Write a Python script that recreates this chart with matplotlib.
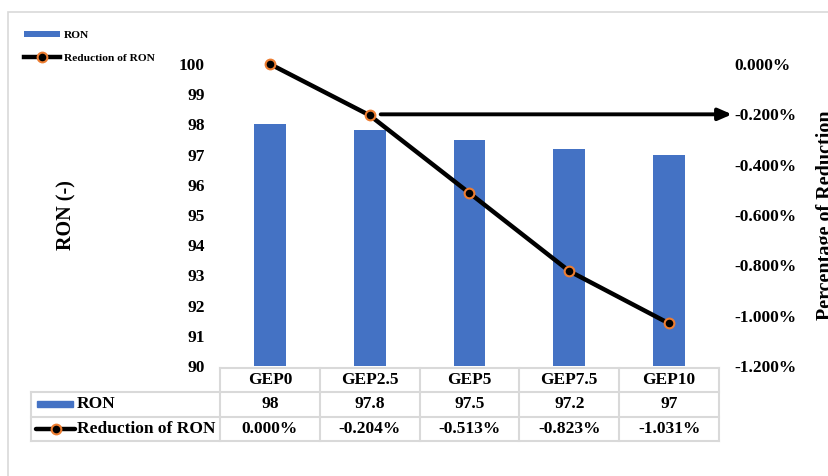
import matplotlib.pyplot as plt
import matplotlib.patches as mpatches
import numpy as np

plt.rcParams['font.family'] = ['Liberation Serif', 'DejaVu Serif']
plt.rcParams['font.weight'] = 'bold'

# Data
categories = ['GEP0', 'GEP2.5', 'GEP5', 'GEP7.5', 'GEP10']
ron = [98, 97.8, 97.5, 97.2, 97]
reduction = [0.000, -0.204, -0.513, -0.823, -1.031]  # percent

bar_color = '#4472C4'
line_color = '#000000'
marker_edge = '#ED7D31'
grid_gray = '#D9D9D9'

W, H = 829, 476
fig = plt.figure(figsize=(W / 100, H / 100), dpi=100)

# outer frame
fig.patches.append(mpatches.Rectangle((8 / W, -0.05), 1.2, (H - 12) / H + 0.05,
                                      transform=fig.transFigure, fill=False,
                                      edgecolor=grid_gray, linewidth=1.2))

def px_box(x0, y0, x1, y1):
    return [x0 / W, 1 - y1 / H, (x1 - x0) / W, (y1 - y0) / H]

ax = fig.add_axes(px_box(220, 64, 719, 366))
x = np.arange(len(categories))
bars = ax.bar(x, ron, width=0.32, color=bar_color, zorder=2, label='RON')
ax.set_xlim(-0.5, len(categories) - 0.5)
ax.set_ylim(90, 100)
ax.set_yticks(np.arange(90, 101, 1))
ax.set_xticks([])
ax.tick_params(axis='y', length=0, labelsize=12.5, pad=11)
for s in ax.spines.values():
    s.set_visible(False)
ax.set_ylabel('RON (-)', fontsize=14.5, fontweight='bold')
ax.yaxis.set_label_coords(-0.287, 0.5)

ax2 = ax.twinx()
line, = ax2.plot(x, reduction, color=line_color, lw=3.2, marker='o', markersize=7,
                 markerfacecolor='black', markeredgecolor=marker_edge,
                 markeredgewidth=1.5, zorder=5, label='Reduction of RON',
                 clip_on=False)
ax2.set_ylim(-1.2, 0)
ticks2 = np.arange(0, -1.21, -0.2)
ax2.set_yticks(ticks2)
ax2.set_yticklabels([f'{t:.3f}%' if abs(t) > 1e-9 else '0.000%' for t in ticks2])
ax2.tick_params(axis='y', length=0, labelsize=12.5, pad=11)
for s in ax2.spines.values():
    s.set_visible(False)
ax2.set_ylabel('Percentage of Reduction', fontsize=14.5, fontweight='bold')
ax2.yaxis.set_label_coords(1.194, 0.5)

# pointer arrow toward the secondary axis
ax2.annotate('', xy=(4.63, -0.2), xytext=(1.11, -0.2),
             xycoords='data', textcoords='data', annotation_clip=False,
             arrowprops=dict(arrowstyle='-|>,head_length=0.8,head_width=0.35',
                             color='black', lw=2.8, shrinkA=0, shrinkB=0))

# data table below the plot
tab = fig.add_axes(px_box(31, 368, 719, 441))
left_w = 189 / 499 * len(categories)
tab.set_xlim(-0.5 - left_w, len(categories) - 0.5)
tab.set_ylim(0, 3)
tab.axis('off')
lw_grid = 1.5
# horizontal lines
tab.plot([-0.5, 4.5], [3, 3], color=grid_gray, lw=lw_grid, clip_on=False)
for yv in (2, 1, 0):
    tab.plot([-0.5 - left_w, 4.5], [yv, yv], color=grid_gray, lw=lw_grid, clip_on=False)
# vertical lines
for xv in np.arange(-0.5, len(categories), 1.0):
    tab.plot([xv, xv], [0, 3], color=grid_gray, lw=lw_grid, clip_on=False)
tab.plot([-0.5 - left_w] * 2, [0, 2], color=grid_gray, lw=lw_grid, clip_on=False)

fs_tab = 12.5
for i, c in enumerate(categories):
    tab.text(i, 2.5, c, ha='center', va='center', fontsize=fs_tab)
    tab.text(i, 1.5, f'{ron[i]:g}', ha='center', va='center', fontsize=fs_tab)
    tab.text(i, 0.5, f'{reduction[i]:.3f}%', ha='center', va='center', fontsize=fs_tab)

# row keys
x0 = -0.5 - left_w
tab.add_patch(mpatches.Rectangle((x0 + 0.06, 1.38), 0.36, 0.26, color=bar_color, clip_on=False))
tab.text(x0 + 0.46, 1.5, 'RON', ha='left', va='center', fontsize=fs_tab)
tab.plot([x0 + 0.05, x0 + 0.44], [0.5, 0.5], color='black', lw=3.2, solid_capstyle='round')
tab.plot([x0 + 0.25], [0.5], marker='o', markersize=7, color='black',
         markeredgecolor=marker_edge, markeredgewidth=1.5)
tab.text(x0 + 0.46, 0.5, 'Reduction of RON', ha='left', va='center', fontsize=fs_tab)

# legend in the upper left corner
fig.legend(handles=[bars, line], labels=['RON', 'Reduction of RON'],
           loc='upper left', bbox_to_anchor=(18 / W, 1 - 25 / H),
           frameon=False, fontsize=8.2, handlelength=3.2, handleheight=0.5,
           handletextpad=0.3, labelspacing=1.2, borderpad=0)

fig.savefig('out.png', dpi=100)
